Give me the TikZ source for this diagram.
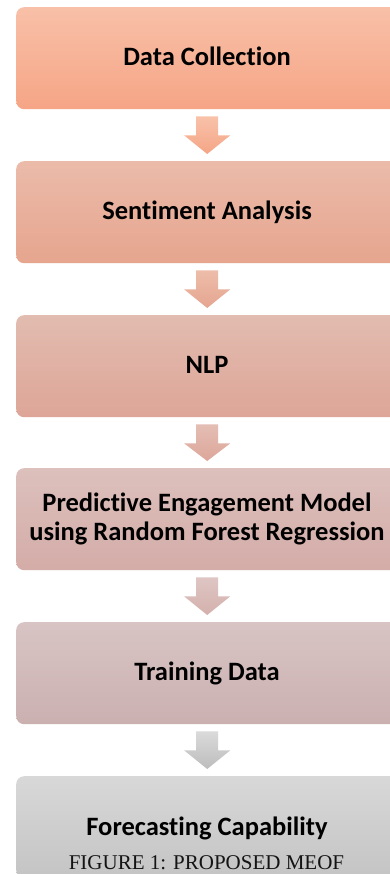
\documentclass[tikz,border=0pt]{standalone}
\usepackage{fontspec}
\setmainfont[Ligatures={NoCommon}]{Carlito}
\newfontfamily\capfont{Liberation Serif}
\begin{document}
\begin{tikzpicture}[x=1pt,y=-1pt,
  stagebox/.style={rounded corners=8pt,minimum width=382pt,minimum height=102pt,inner sep=0pt,anchor=north west,draw=none},
  stagetext/.style={anchor=base,inner sep=0pt,font=\fontsize{26.5}{29}\selectfont\bfseries,text=black},
  flowarrow/.style={draw=none}
]
\useasboundingbox (0,0) rectangle (390,874);
\fill[white] (0,0) rectangle (390,874);
% boxes
\node[stagebox,top color={rgb,255:red,248;green,192;blue,168},bottom color={rgb,255:red,246;green,165;blue,134}] (b1) at (16,7) {};
\node[stagebox,top color={rgb,255:red,235;green,187;blue,170},bottom color={rgb,255:red,230;green,165;blue,142}] (b2) at (16,161) {};
\node[stagebox,top color={rgb,255:red,226;green,188;blue,176},bottom color={rgb,255:red,221;green,165;blue,151}] (b3) at (16,315) {};
\node[stagebox,top color={rgb,255:red,220;green,192;blue,188},bottom color={rgb,255:red,212;green,172;blue,168}] (b4) at (16,468) {};
\node[stagebox,top color={rgb,255:red,216;green,196;blue,196},bottom color={rgb,255:red,203;green,176;blue,176}] (b5) at (16,622) {};
\node[stagebox,top color={rgb,255:red,216;green,216;blue,216},bottom color={rgb,255:red,196;green,196;blue,196}] (b6) at (16,776) {};
% arrows
\newcommand{\flowarr}[4]{%
  \shade[flowarrow,top color=#3,bottom color=#4] ([xshift=-11pt,yshift=-7pt]#1.south) -- ([xshift=11pt,yshift=-7pt]#1.south)
    -- ([xshift=11pt,yshift=-26pt]#1.south) -- ([xshift=23pt,yshift=-26pt]#1.south)
    -- ([yshift=7pt]#2.north) -- ([xshift=-23pt,yshift=-26pt]#1.south)
    -- ([xshift=-11pt,yshift=-26pt]#1.south) -- cycle;}
\flowarr{b1}{b2}{{rgb,255:red,248;green,194;blue,170}}{{rgb,255:red,245;green,165;blue,133}}
\flowarr{b2}{b3}{{rgb,255:red,237;green,189;blue,170}}{{rgb,255:red,229;green,165;blue,144}}
\flowarr{b3}{b4}{{rgb,255:red,228;green,190;blue,180}}{{rgb,255:red,221;green,166;blue,154}}
\flowarr{b4}{b5}{{rgb,255:red,222;green,198;blue,196}}{{rgb,255:red,212;green,176;blue,172}}
\flowarr{b5}{b6}{{rgb,255:red,218;green,218;blue,218}}{{rgb,255:red,189;green,189;blue,189}}
% texts
\node[stagetext] (t1) at (207,65.7) {Data Collection};
\node[stagetext] (t2) at (207,219.7) {Sentiment Analysis};
\node[stagetext] (t3) at (207,373.7) {NLP};
\node[stagetext] (t4a) at (207,511.7) {Predictive Engagement Model};
\node[stagetext] (t4b) at (207,540) {using Random Forest Regression};
\node[stagetext] (t5) at (207,680.7) {Training Data};
\node[stagetext] (t6) at (207,835) {Forecasting Capability};
\node[anchor=base,inner sep=0pt,font=\capfont\fontsize{21}{24}\selectfont,text={rgb,255:red,20;green,20;blue,20}] (cap) at (206.5,869) {FIGURE 1: PROPOSED MEOF};
\end{tikzpicture}
\end{document}
